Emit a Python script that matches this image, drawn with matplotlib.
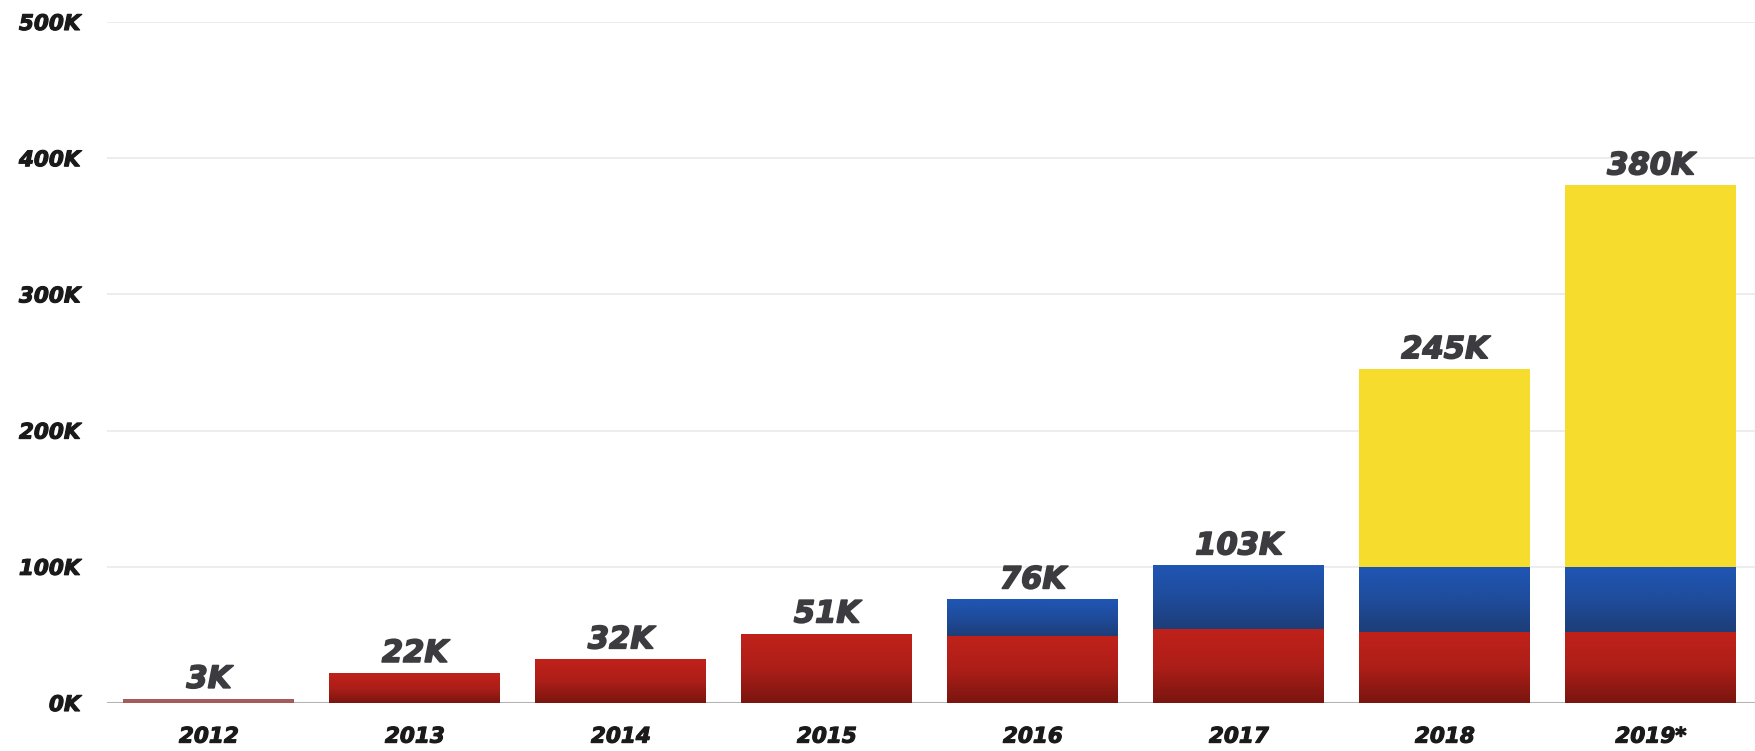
import numpy as np
import matplotlib.pyplot as plt
import matplotlib.patheffects as pe
from matplotlib.colors import LinearSegmentedColormap

years = ["2012", "2013", "2014", "2015", "2016", "2017", "2018", "2019*"]
red_vals = [3, 22, 32, 51, 49, 54, 52, 52]
blue_vals = [0, 0, 0, 0, 27, 47, 48, 48]
yellow_vals = [0, 0, 0, 0, 0, 0, 145, 280]
total_labels = ["3K", "22K", "32K", "51K", "76K", "103K", "245K", "380K"]
yticks = [0, 100, 200, 300, 400, 500]

fig = plt.figure(figsize=(17.56, 7.51), dpi=100)
ax = fig.add_axes([0.0609, 0.0639, 0.9391, 0.9068])

x = np.arange(len(years))
w = 0.83

red_cmap = LinearSegmentedColormap.from_list("r", ["#7a150f", "#ad1e18", "#c0221a"])
blue_cmap = LinearSegmentedColormap.from_list("b", ["#1d3e78", "#1f4c9c", "#1f56b4"])
grad = np.linspace(0, 1, 100).reshape(-1, 1)


def grad_bars(bottoms, heights, cmap):
    bars = ax.bar(x, heights, w, bottom=bottoms, color="none", linewidth=0)
    for b, h, bot in zip(bars, heights, bottoms):
        if h <= 0:
            continue
        x0 = b.get_x()
        im = ax.imshow(grad, extent=[x0, x0 + w, bot, bot + h], origin="lower",
                       cmap=cmap, aspect="auto", zorder=2)
        im.set_clip_path(b)


red_b = np.zeros(len(years))
grad_bars(red_b, red_vals, red_cmap)
blue_b = red_b + np.array(red_vals)
grad_bars(blue_b, blue_vals, blue_cmap)
yel_b = blue_b + np.array(blue_vals)
ax.bar(x, yellow_vals, w, bottom=yel_b, color="#f6dc2c", linewidth=0, zorder=2)

# the 2012 sliver looks faded
ax.bar(x[0], red_vals[0], w, color="#a65a5a", linewidth=0, zorder=3)

heavy = [pe.withStroke(linewidth=1.2, foreground="#3c3c40")]
totals = yel_b + np.array(yellow_vals)
for xi, t, lab in zip(x, totals, total_labels):
    ax.annotate(lab, (xi, t), xytext=(0, 8), textcoords="offset points",
                ha="center", va="baseline", fontsize=22, fontweight="bold",
                fontstyle="italic", color="#3c3c40", zorder=4,
                path_effects=heavy)

ax.set_xlim(-0.495, 7.51)
ax.set_ylim(0, 500)
ax.set_yticks(yticks)
ax.set_yticklabels([f"{v}K" for v in yticks])
ax.set_xticks(x)
ax.set_xticklabels(years)
for lab in ax.get_yticklabels() + ax.get_xticklabels():
    lab.set_fontweight("bold")
    lab.set_fontstyle("italic")
    lab.set_fontsize(15.5)
    lab.set_color("#1a1a1a")
    lab.set_path_effects([pe.withStroke(linewidth=0.8, foreground="#1a1a1a")])
ax.tick_params(axis="y", length=0, pad=19)
ax.tick_params(axis="x", length=0, pad=17)

ax.grid(axis="y", color="#ececec", linewidth=1.3, zorder=0)
ax.set_axisbelow(True)
for s in ax.spines.values():
    s.set_visible(False)
ax.axhline(0, color="#b5b5b5", linewidth=1.5, zorder=1)

fig.savefig("out.png", dpi=100)
